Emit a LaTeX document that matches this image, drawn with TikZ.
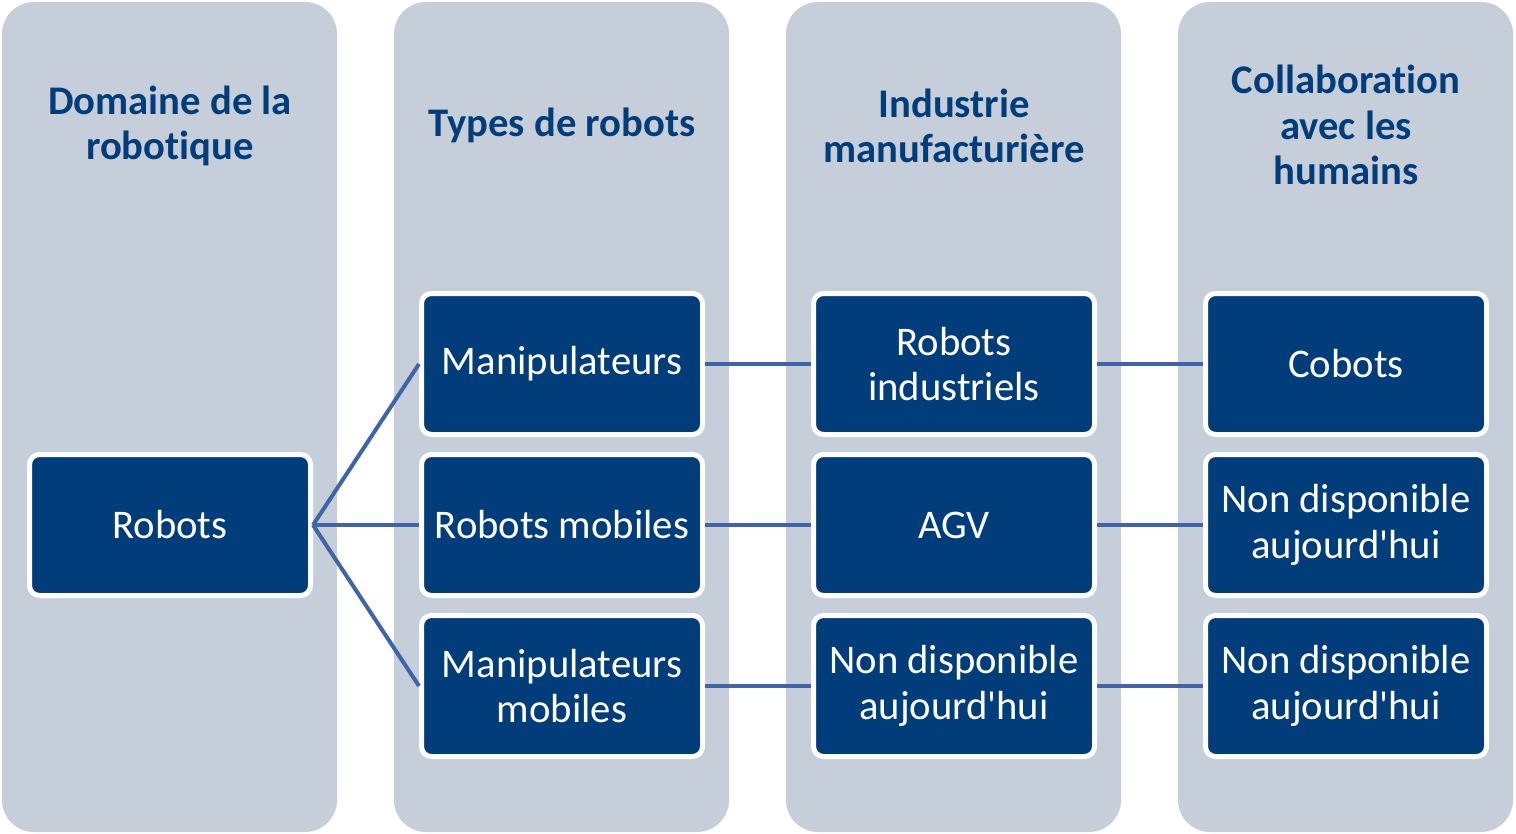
\documentclass[tikz,border=0pt]{standalone}
\usepackage{fontspec}
\setmainfont{Carlito}[Ligatures={TeXOff,CommonOff}]
\definecolor{colbg}{HTML}{C6CFD9}
\definecolor{boxblue}{HTML}{023D7B}
\definecolor{linkblue}{HTML}{4064AA}
\begin{document}
\begin{tikzpicture}[x=0.75pt,y=-0.75pt,
  column/.style={fill=colbg, rounded corners=24pt},
  header/.style={text=boxblue, font=\fontsize{30.5}{34}\selectfont\bfseries, align=center, inner sep=0pt},
  item/.style={draw=white, line width=3.75pt, fill=boxblue, text=white, rounded corners=7.5pt,
    minimum width=210.75pt, minimum height=105.75pt, align=center,
    font=\fontsize{30.5}{34}\selectfont, inner sep=0pt},
  link/.style={draw=linkblue, line width=3pt}]
\useasboundingbox (0,0) rectangle (1516,834);
% columns
\fill[column] (2,2) rectangle (337,832);
\fill[column] (394,2) rectangle (729,832);
\fill[column] (786,2) rectangle (1121,832);
\fill[column] (1178,2) rectangle (1513,832);
% headers
\node[header] (h1) at (170,126) {Domaine de la\\robotique};
\node[header] (h2) at (562,125) {Types de robots};
\node[header] (h3) at (954,126) {Industrie\\manufacturière};
\node[header] (h4) at (1346,125) {Collaboration\\avec les\\humains};
% boxes
\node[item] (robots) at (170,525) {Robots};
\node[item] (manip) at (562,364) {Manipulateurs};
\node[item] (mobiles) at (562,525) {Robots mobiles};
\node[item] (manipmob) at (562,686) {Manipulateurs\\mobiles};
\node[item] (indus) at (954,364) {Robots\\industriels};
\node[item] (agv) at (954,525) {AGV};
\node[item] (nd3) at (954,686) {Non disponible\\aujourd'hui};
\node[item] (cobots) at (1346,364) {Cobots};
\node[item] (nd4a) at (1346,525) {Non disponible\\aujourd'hui};
\node[item] (nd4b) at (1346,686) {Non disponible\\aujourd'hui};
% connectors
\draw[link] (robots.east) -- (manip.west);
\draw[link] (robots.east) -- (mobiles.west);
\draw[link] (robots.east) -- (manipmob.west);
\draw[link] (manip.east) -- (indus.west);
\draw[link] (mobiles.east) -- (agv.west);
\draw[link] (manipmob.east) -- (nd3.west);
\draw[link] (indus.east) -- (cobots.west);
\draw[link] (agv.east) -- (nd4a.west);
\draw[link] (nd3.east) -- (nd4b.west);
\end{tikzpicture}
\end{document}
